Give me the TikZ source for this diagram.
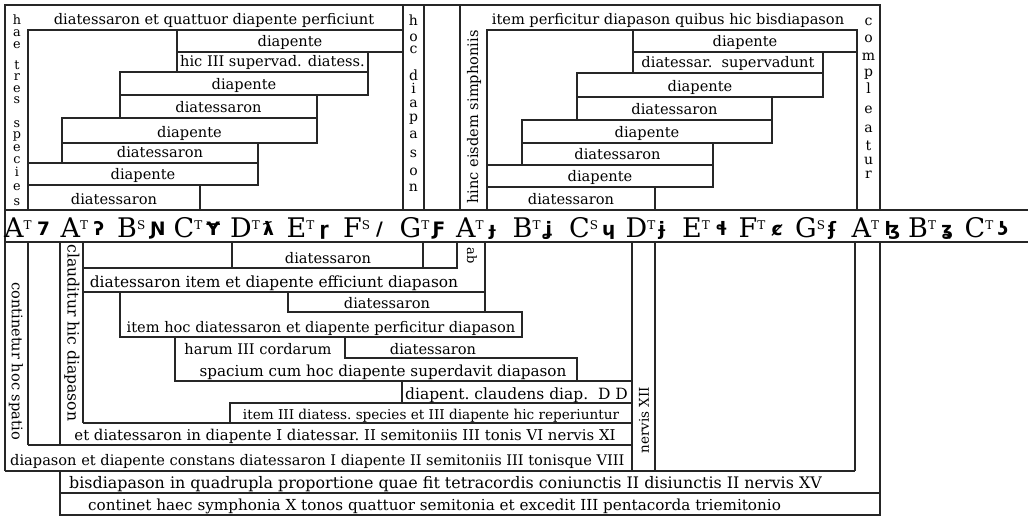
\documentclass[tikz,border=0pt]{standalone}
\usepackage{fontspec}
\setmainfont{DejaVu Serif}
\newfontfamily\dasfont{DejaVu Sans}
\begin{document}
\begin{tikzpicture}[x=1pt,y=-1pt,
  fr/.style={line width=2pt, draw=black!85},
  bx/.style={line width=2.6pt, draw=black!85, line join=miter},
  tx/.style={font=\fontsize{14.6}{16}\selectfont, inner sep=0pt, anchor=base},
  fs/.style={font=\fontsize{#1}{#1}\selectfont},
  stk/.style={font=\fontsize{14}{16}\selectfont, inner sep=0pt, anchor=base, text height=5pt, text depth=0pt},
  vt/.style={font=\fontsize{14.6}{16}\selectfont, inner sep=0pt},
  gam/.style={font=\fontsize{27}{29}\selectfont, inner sep=0pt, anchor=base west},
  sgn/.style={font=\dasfont\bfseries\fontsize{18.5}{20}\selectfont, inner sep=0pt, anchor=base west},
]
\useasboundingbox (0,0) rectangle (1028,517);
\fill[white] (0,0) rectangle (1028,517);

% ---------- frames ----------
\draw[fr] (5,471) -- (5,5) -- (880,5) -- (880,210);
\draw[fr] (403,5) -- (403,210);
\draw[fr] (424,5) -- (424,210);
\draw[fr] (460,5) -- (460,210);
\draw[fr] (5,210) -- (1028,210);
\draw[fr] (5,242) -- (1028,242);

% ---------- upper left ----------
\draw[bx] (28,210) -- (28,30) -- (403,30);
\foreach \a/\b/\c/\d/\t [count=\i] in {
  177/30/403/52/diapente,
  177/52/368/72/hic III supervad. diatess.,
  120/72/368/95/diapente,
  120/95/317/118/diatessaron,
  62/118/317/143/diapente,
  62/143/258/163/diatessaron,
  28/163/258/185/diapente,
  28/185/200/210/diatessaron}{
  \draw[bx] (\a,\b) rectangle (\c,\d);
  \node[tx] (ul\i) at ({(\a+\c)/2},{\d-5.5}) {\t};
}
\node[tx] (topl) at (214,24) {diatessaron et quattuor diapente perficiunt};
\foreach \l/\y [count=\i] in {h/24,a/36,e/48,t/69,r/80.5,e/92,s/103.5,s/127,p/138.5,e/151,c/163,i/176.5,e/190,s/205}
  \node[stk, fs=12.8] (hae\i) at (17,\y) {\l};
\foreach \l/\y [count=\i] in {h/25,o/41,c/53,d/80,i/93,a/107,p/121,a/138,s/157,o/175,n/191}
  \node[stk] (hoc\i) at (413.5,\y) {\l};

% ---------- upper right ----------
\draw[bx] (487,210) -- (487,30) -- (857,30) -- (857,210);
\foreach \a/\b/\c/\d/\t [count=\i] in {
  633/30/857/52/diapente,
  633/52/823/73/diatessar.\ \ supervadunt,
  577/73/823/97/diapente,
  577/97/772/120/diatessaron,
  522/120/772/143/diapente,
  522/143/713/165/diatessaron,
  487/165/713/187/diapente,
  487/187/655/210/diatessaron}{
  \draw[bx] (\a,\b) rectangle (\c,\d);
  \node[tx] (ur\i) at ({(\a+\c)/2},{\d-5.5}) {\t};
}
\node[tx] (topr) at (668,24) {item perficitur diapason quibus hic bisdiapason};
\node[vt, rotate=90] (hinc) at (474,117) {hinc eisdem simphoniis};
\foreach \l/\y [count=\i] in {c/25,o/42,m/60,p/76,l/93,e/113,a/132,t/150,u/164,r/178}
  \node[stk] (comp\i) at (868.5,\y) {\l};

% ---------- gamut ----------
\foreach \L/\S/\G [count=\i from 0] in {A/T/7,A/T/ʔ,B/S/Ɲ,C/T/Ɏ,D/T/ƛ,E/T/ɼ,F/S/{/},G/T/Ƒ,A/T/ɟ,B/T/ʝ,C/S/ɥ,D/T/ɉ,E/T/ɬ,F/T/ȼ,G/S/ʄ,A/T/ɮ,B/T/ʓ,C/T/ʖ}{
  \node[gam] (g\i) at ({4+\i*56.5},237.5) {\L\raisebox{8.5pt}{\fontsize{12}{12}\selectfont\S}};
  \node[sgn] (s\i) at ({4+\i*56.5+33},235.5) {\G};
}

% ---------- lower structure ----------
\draw[fr] (28,242) -- (28,445);
\draw[fr] (60,242) -- (60,445);
\draw[bx] (83,242) -- (83,423);
\draw[bx] (83,268) -- (457,268) -- (457,242);
\draw[bx] (232,242) -- (232,268);
\draw[bx] (423,242) -- (423,268);
\draw[bx] (485,242) -- (485,312);
\draw[bx] (83,292) -- (485,292);
\draw[bx] (120,292) -- (120,337) -- (522,337) -- (522,312) -- (288,312) -- (288,292);
\draw[bx] (175,337) -- (175,381) -- (632,381);
\draw[bx] (345,337) -- (345,358) -- (577,358) -- (577,381);
\draw[bx] (402,381) -- (402,403);
\draw[bx] (230,423) -- (230,403) -- (632,403);
\draw[bx] (83,423) -- (632,423);
\draw[bx] (28,445) -- (632,445);
\draw[fr] (5,471) -- (855,471);
\draw[fr] (632,242) -- (632,471);
\draw[fr] (655,242) -- (655,471);
\draw[fr] (855,242) -- (855,471);
\draw[fr] (880,242) -- (880,515) -- (60,515) -- (60,471);
\draw[fr] (60,493) -- (880,493);

% ---------- lower texts ----------
\node[vt, rotate=-90] (cont) at (16,361) {continetur hoc spatio};
\node[vt, fs=15.6, rotate=-90] (claud) at (72,333) {clauditur hic diapason};
\node[vt, fs=13, rotate=-90] (ab) at (472,256) {ab};
\node[vt, fs=13.5, rotate=90] (nerv) at (644,420) {nervis XII};
\node[tx] (l1) at (328,263) {diatessaron};
\node[tx, fs=15.4] (l2) at (274,287) {diatessaron item et diapente efficiunt diapason};
\node[tx] (l3) at (387,308) {diatessaron};
\node[tx] (l4) at (321,332) {item hoc diatessaron et diapente perficitur diapason};
\node[tx] (l5a) at (258,354) {harum III cordarum};
\node[tx] (l5b) at (433,354) {diatessaron};
\node[tx, fs=15.2] (l5c) at (383,376) {spacium cum hoc diapente superdavit diapason};
\node[tx, fs=15.5, anchor=base west] (l6) at (405,399) {diapent.\ claudens diap.\ \ D D};
\node[tx, fs=13.6] (l7) at (431,419) {item III diatess.\ species et III diapente hic reperiuntur};
\node[tx, fs=14.9] (l8) at (345,440) {et diatessaron in diapente I diatessar.\ II semitoniis III tonis VI nervis XI};
\node[tx, fs=14.6, anchor=base west] (l9) at (10,465) {diapason et diapente constans diatessaron I diapente II semitoniis III tonisque VIII};
\node[tx, fs=15.9, anchor=base west] (l10) at (69,488) {bisdiapason in quadrupla proportione quae fit tetracordis coniunctis II disiunctis II nervis XV};
\node[tx, fs=15.2, anchor=base west] (l11) at (88,510) {continet haec symphonia X tonos quattuor semitonia et excedit III pentacorda triemitonio};
\end{tikzpicture}
\end{document}
